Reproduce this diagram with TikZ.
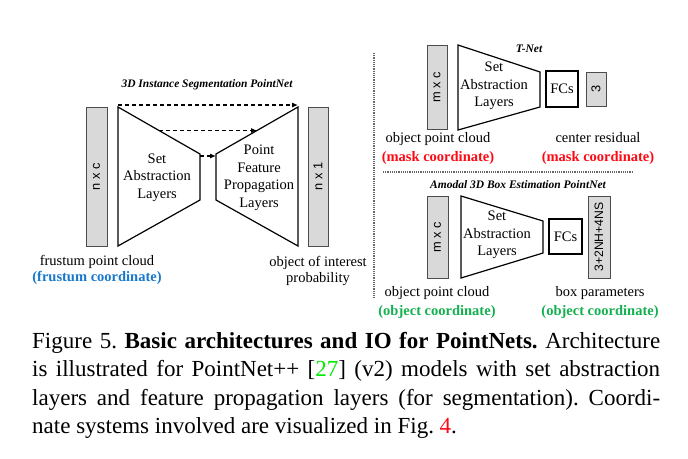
\documentclass[tikz,border=0pt]{standalone}
\usepackage{fontspec}
\setmainfont{Liberation Serif}
\newfontfamily\arialfont{Liberation Sans}
\usetikzlibrary{arrows.meta,calc}
\definecolor{frustblue}{RGB}{24,120,204}
\definecolor{maskred}{RGB}{255,10,20}
\definecolor{objgreen}{RGB}{20,176,80}
\definecolor{citegreen}{RGB}{0,235,0}

\begin{document}
\begin{tikzpicture}[x=1pt, y=-1pt,
    bar/.style={draw=black!70, fill=black!15, line width=1pt, inner sep=0pt, rotate=90,
      font=\arialfont\fontsize{12.8}{12.8}\selectfont},
    layer/.style={draw, line width=1.2pt},
    fcbox/.style={draw, line width=1.2pt, fill=white, inner sep=0pt,
      font=\fontsize{14.5}{16}\selectfont},
    lbl/.style={align=center, inner sep=0pt, font=\fontsize{14.5}{17.5}\selectfont},
    io/.style={align=center, inner sep=0pt, font=\fontsize{14.5}{16}\selectfont},
    iowide/.style={align=center, inner sep=0pt, font=\fontsize{14.5}{19}\selectfont},
    ttl/.style={inner sep=0pt, font=\fontsize{11.5}{12}\selectfont\bfseries\itshape},
    skip/.style={dash pattern=on 4pt off 3pt, line width=1.1pt, -{Latex[length=6pt,width=5pt]}},
    sep/.style={densely dotted, line width=1.2pt, black!60}]
    \useasboundingbox (0,0) rectangle (688,458);

    % 3D instance segmentation
    \node[ttl] (segtitle) at (207,85) {3D Instance Segmentation PointNet};
    \node[bar, minimum width=139, minimum height=21] (nc) at (96.5,176.5) {n x c};
    \node[bar, minimum width=139, minimum height=20] (n1) at (318,176.5) {n x 1};
    \coordinate (sa-tl) at (118,107);
    \coordinate (sa-tr) at (200,154);
    \coordinate (sa-br) at (200,200);
    \coordinate (sa-bl) at (118,246);
    \draw[layer] (sa-tl) -- (sa-tr) -- (sa-br) -- (sa-bl) -- cycle;
    \coordinate (fp-tl) at (216,154);
    \coordinate (fp-tr) at (298,107);
    \coordinate (fp-br) at (298,246);
    \coordinate (fp-bl) at (216,200);
    \draw[layer] (fp-tl) -- (fp-tr) -- (fp-br) -- (fp-bl) -- cycle;
    \node[lbl] (sa) at (157,177.5) {Set\\Abstraction\\Layers};
    \node[lbl] (fp) at (259,178) {Point\\Feature\\Propagation\\Layers};
    \draw[skip] ([yshift=2pt]sa-tl) -- ([yshift=2pt]fp-tr);
    \draw[skip] ($(sa-tl)!0.5!(sa-tr)$) -- ($(fp-tl)!0.5!(fp-tr)$);
    \draw[skip] ([yshift=-2pt]sa-tr) -- ([yshift=-2pt]fp-tl);
    \node[io] (segin) at (97,270) {frustum point cloud\\\textcolor{frustblue}{\bfseries(frustum coordinate)}};
    \node[io] (segout) at (318,271) {object of interest\\probability};

    % separators
    \draw[sep] (374,53) -- (374,298);
    \draw[sep] (383,172) -- (632,172);

    % T-Net
    \node[ttl] (ttitle) at (529,49) {T-Net};
    \node[bar, minimum width=84, minimum height=20] (tmc) at (437,87) {m x c};
    \coordinate (ts-tl) at (458,45);
    \coordinate (ts-tr) at (540,72);
    \coordinate (ts-br) at (540,107);
    \coordinate (ts-bl) at (458,130);
    \draw[layer] (ts-tl) -- (ts-tr) -- (ts-br) -- (ts-bl) -- cycle;
    \node[lbl] (ts) at (494,86) {Set\\Abstraction\\Layers};
    \node[fcbox, minimum width=32, minimum height=36] (tfc) at (562,89) {FCs};
    \node[bar, minimum width=34, minimum height=20] (t3) at (596,89) {3};
    \node[iowide] (tin) at (438,148.5) {object point cloud\\\textcolor{maskred}{\bfseries(mask coordinate)}};
    \node[iowide] (tout) at (598,148.5) {center residual\\\textcolor{maskred}{\bfseries(mask coordinate)}};

    % Amodal 3D box estimation
    \node[ttl] (btitle) at (518,185) {Amodal 3D Box Estimation PointNet};
    \node[bar, minimum width=82, minimum height=21] (bmc) at (437.5,237) {m x c};
    \coordinate (bs-tl) at (461,196);
    \coordinate (bs-tr) at (543,221);
    \coordinate (bs-br) at (543,253);
    \coordinate (bs-bl) at (461,278);
    \draw[layer] (bs-tl) -- (bs-tr) -- (bs-br) -- (bs-bl) -- cycle;
    \node[lbl] (bs) at (497,235) {Set\\Abstraction\\Layers};
    \node[fcbox, minimum width=33, minimum height=35] (bfc) at (565.5,236.5) {FCs};
    \node[bar, minimum width=82, minimum height=22, font=\arialfont\fontsize{12.2}{12.2}\selectfont] (bpar) at (599,237) {3+2NH+4NS};
    \node[iowide] (bin) at (437,302.5) {object point cloud\\\textcolor{objgreen}{\bfseries(object coordinate)}};
    \node[iowide] (bout) at (600,302.5) {box parameters\\\textcolor{objgreen}{\bfseries(object coordinate)}};

    % caption
    \node[anchor=north west, inner sep=0pt, text width=628pt, align=justify,
      font=\fontsize{23}{28.5}\selectfont\frenchspacing] (caption) at (32,332)
      {Figure 5. \textbf{Basic architectures and IO for PointNets.} Architecture\linebreak
       is illustrated for PointNet++ [\textcolor{citegreen}{27}] (v2) models with set abstraction\linebreak
       layers and feature propagation layers (for segmentation). Coordi-\linebreak
       nate systems involved are visualized in Fig.~\textcolor{maskred}{4}.};
\end{tikzpicture}
\end{document}
